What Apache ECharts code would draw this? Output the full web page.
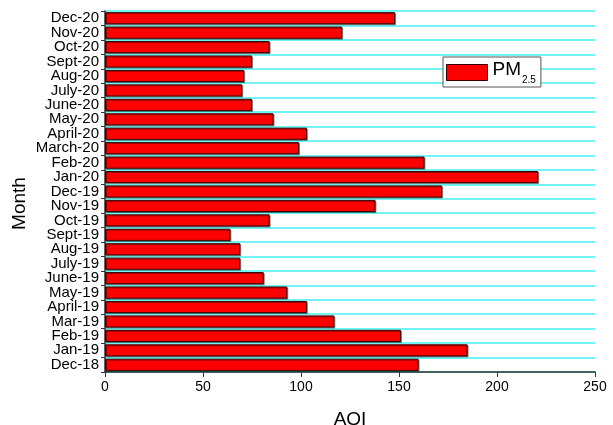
<!DOCTYPE html>
<html>
<head>
<meta charset="utf-8">
<script src="https://cdn.jsdelivr.net/npm/echarts@6/dist/echarts.min.js"></script>
<style>
  html, body { margin: 0; padding: 0; background: #fff; }
  #chart { width: 613px; height: 425px; }
</style>
</head>
<body>
<div id="chart"></div>
<script>
// months from bottom (Dec-18) to top (Dec-20)
var months = ['Dec-18', 'Jan-19', 'Feb-19', 'Mar-19', 'April-19', 'May-19', 'June-19', 'July-19', 'Aug-19',
  'Sept-19', 'Oct-19', 'Nov-19', 'Dec-19', 'Jan-20', 'Feb-20', 'March-20', 'April-20', 'May-20',
  'June-20', 'July-20', 'Aug-20', 'Sept-20', 'Oct-20', 'Nov-20', 'Dec-20']
var pm25 = [160, 185, 151, 117, 103, 93, 81, 69, 69, 64, 84, 138, 172, 221, 163, 99, 103, 86,
  75, 70, 71, 75, 84, 121, 148]
var aqiTicks = [0, 50, 100, 150, 200, 250]

var font = 'Liberation Sans, Arial, sans-serif'
var chart = echarts.init(document.getElementById('chart'))

chart.setOption({
  animation: false,
  textStyle: { fontFamily: font },
  grid: {
    left: 105,
    right: 18,
    top: 11,
    bottom: 53,
    containLabel: false,
    outerBoundsMode: 'none'
  },
  legend: {
    data: [{ name: 'PM2.5', icon: 'rect' }],
    left: 443,
    top: 57,
    orient: 'vertical',
    backgroundColor: '#fff',
    borderColor: '#555',
    borderWidth: 1,
    borderRadius: 0,
    padding: [3, 5, 2, 3],
    itemWidth: 41,
    itemHeight: 16,
    itemGap: 6,
    itemStyle: { color: '#ff0000', borderColor: '#3a0000', borderWidth: 1 },
    formatter: function () {
      return '{m|PM}{s|2.5}'
    },
    textStyle: {
      rich: {
        m: { fontSize: 19, color: '#000', fontFamily: font, verticalAlign: 'top' },
        s: { fontSize: 10, color: '#000', fontFamily: font, verticalAlign: 'bottom', padding: [15, 0, 0, 1] }
      }
    }
  },
  xAxis: {
    type: 'value',
    min: 0,
    max: 250,
    interval: 50,
    name: 'AQI',
    nameLocation: 'middle',
    nameGap: 38,
    nameMoveOverlap: false,
    nameTextStyle: { fontSize: 19, color: '#000', fontFamily: font },
    axisLine: { show: true, lineStyle: { color: '#333', width: 1.5 } },
    axisTick: { show: true, length: 5, lineStyle: { color: '#333' } },
    axisLabel: {
      fontSize: 14,
      color: '#000',
      margin: 8,
      formatter: function (v) { return aqiTicks.indexOf(v) >= 0 ? String(v) : '' }
    },
    splitLine: { show: false }
  },
  yAxis: {
    type: 'category',
    data: months,
    name: 'Month',
    nameLocation: 'middle',
    nameGap: 76,
    nameMoveOverlap: false,
    nameTextStyle: { fontSize: 19, color: '#000', fontFamily: font, padding: [0, 24, 0, 0] },
    axisLine: { show: true, lineStyle: { color: '#333', width: 1.5 } },
    axisTick: { show: true, inside: false, length: 4, lineStyle: { color: '#333' } },
    axisLabel: { interval: 0, fontSize: 15, color: '#000', margin: 6 },
    splitLine: { show: true, interval: 0, lineStyle: { color: '#40f0f0', width: 1.5 } }
  },
  series: [
    {
      name: 'PM2.5',
      type: 'bar',
      data: pm25,
      barCategoryGap: '16%',
      itemStyle: {
        color: '#ff0000',
        borderColor: '#3a0000',
        borderWidth: 1,
        shadowColor: 'rgba(0,0,0,0.4)',
        shadowOffsetX: 1,
        shadowOffsetY: 1
      }
    }
  ]
})
</script>
</body>
</html>
